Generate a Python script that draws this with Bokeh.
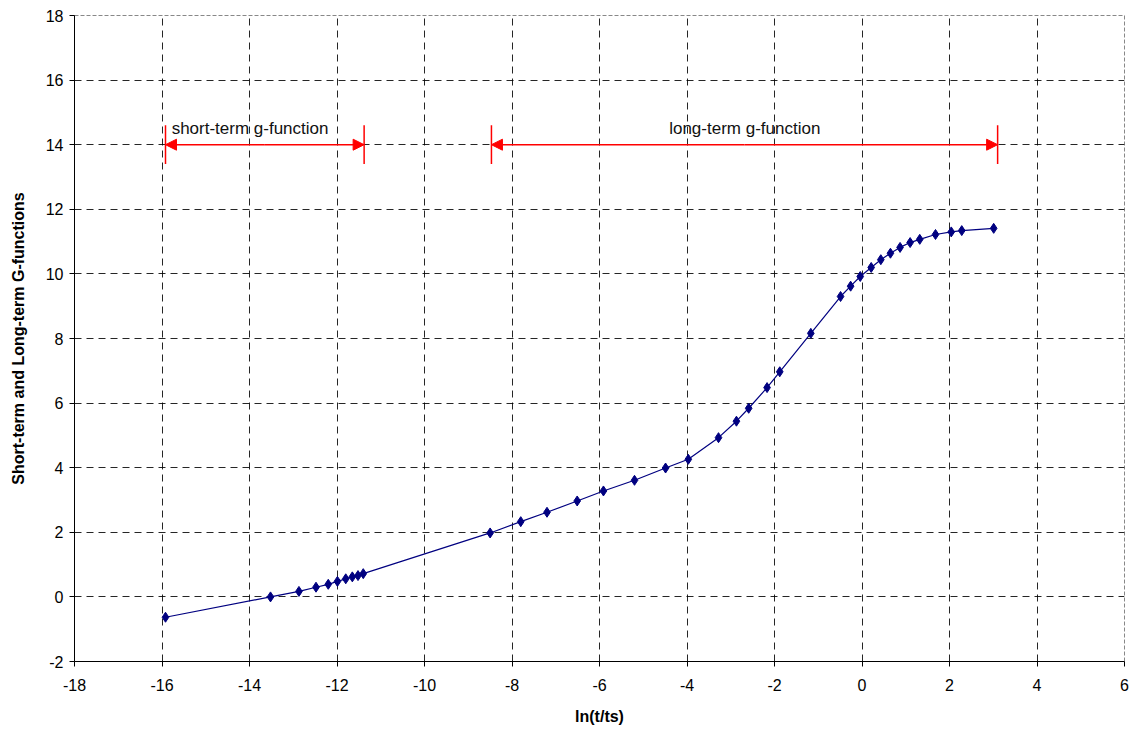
from bokeh.plotting import figure
from bokeh.models import Arrow, NormalHead, Range1d, FixedTicker, Label, PrintfTickFormatter
from bokeh.embed import file_html
from bokeh.resources import INLINE

ln_t = [-15.92, -13.52, -12.87, -12.48, -12.20, -11.99, -11.80, -11.65, -11.52, -11.40,
        -8.50, -7.80, -7.20, -6.51, -5.91, -5.20, -4.49, -3.97, -3.28, -2.87, -2.59,
        -2.17, -1.88, -1.17, -0.49, -0.26, -0.04, 0.21, 0.43, 0.65, 0.87, 1.10, 1.32,
        1.68, 2.04, 2.28, 3.01]
g_val = [-0.63, 0.00, 0.17, 0.30, 0.39, 0.48, 0.56, 0.62, 0.66, 0.72,
         1.98, 2.33, 2.62, 2.97, 3.28, 3.61, 3.99, 4.26, 4.93, 5.44, 5.84,
         6.48, 6.97, 8.16, 9.30, 9.62, 9.92, 10.20, 10.44, 10.64, 10.82, 10.97, 11.07,
         11.22, 11.30, 11.34, 11.41]

short_range = [-15.92, -11.38]
long_range = [-8.47, 3.10]
range_y = 14.0
tick_half = 0.6
short_label = "short-term g-function"
long_label = "long-term g-function"

x_ticks = list(range(-18, 7, 2))
y_ticks = list(range(-2, 19, 2))

FONT = "Liberation Sans"

p = figure(width=1136, height=733, output_backend="svg", toolbar_location=None,
           x_range=Range1d(-18, 6), y_range=Range1d(-2, 18),
           min_border_left=74, min_border_right=12, min_border_top=15, min_border_bottom=72)
p.background_fill_color = "white"
p.border_fill_color = "white"
p.outline_line_color = "#888888"
p.outline_line_dash = "4 2"
p.outline_line_width = 1

for ax in (p.xaxis[0], p.yaxis[0]):
    ax.axis_line_color = "black"
    ax.axis_line_width = 1
    ax.major_tick_line_color = "black"
    ax.major_tick_out = 5
    ax.major_tick_in = 0
    ax.minor_tick_line_color = None
    ax.major_label_text_font = FONT
    ax.major_label_text_font_size = "16px"
    ax.major_label_text_color = "black"
    ax.axis_label_text_font = FONT
    ax.axis_label_text_font_style = "bold"
    ax.axis_label_text_font_size = "16px"
    ax.axis_label_text_color = "black"
    ax.formatter = PrintfTickFormatter(format="%d")

p.xaxis[0].ticker = FixedTicker(ticks=x_ticks)
p.yaxis[0].ticker = FixedTicker(ticks=y_ticks)
p.xaxis[0].axis_label = "ln(t/ts)"
p.yaxis[0].axis_label = "Short-term and Long-term G-functions"
p.xaxis[0].major_label_standoff = 12
p.xaxis[0].axis_label_standoff = 14
p.yaxis[0].major_label_standoff = 6
p.yaxis[0].axis_label_standoff = 16

for g in (p.xgrid[0], p.ygrid[0]):
    g.grid_line_color = "black"
    g.grid_line_dash = "7 5"
    g.grid_line_width = 1
    g.grid_line_alpha = 0.85

p.line(ln_t, g_val, line_color="#000080", line_width=1.2)
p.scatter(ln_t, g_val, marker="diamond", size=10, fill_color="#000080", line_color="#000080")

for rng in (short_range, long_range):
    p.add_layout(Arrow(x_start=(rng[0] + rng[1]) / 2, y_start=range_y, x_end=rng[0], y_end=range_y,
                       line_color="red", line_width=1.5,
                       end=NormalHead(size=11, fill_color="red", line_color="red")))
    p.add_layout(Arrow(x_start=(rng[0] + rng[1]) / 2, y_start=range_y, x_end=rng[1], y_end=range_y,
                       line_color="red", line_width=1.5,
                       end=NormalHead(size=11, fill_color="red", line_color="red")))
    p.segment(x0=[rng[0], rng[1]], y0=[range_y - tick_half] * 2,
              x1=[rng[0], rng[1]], y1=[range_y + tick_half] * 2,
              line_color="red", line_width=1.5)

p.add_layout(Label(x=-15.78, y=14.2, text=short_label, text_font=FONT, text_font_size="17px",
                   text_color="#111111", text_baseline="bottom", text_align="left"))
p.add_layout(Label(x=-2.68, y=14.2, text=long_label, text_font=FONT, text_font_size="17px",
                   text_color="#111111", text_baseline="bottom", text_align="center"))

open("out.html", "w").write(file_html(p, INLINE))
